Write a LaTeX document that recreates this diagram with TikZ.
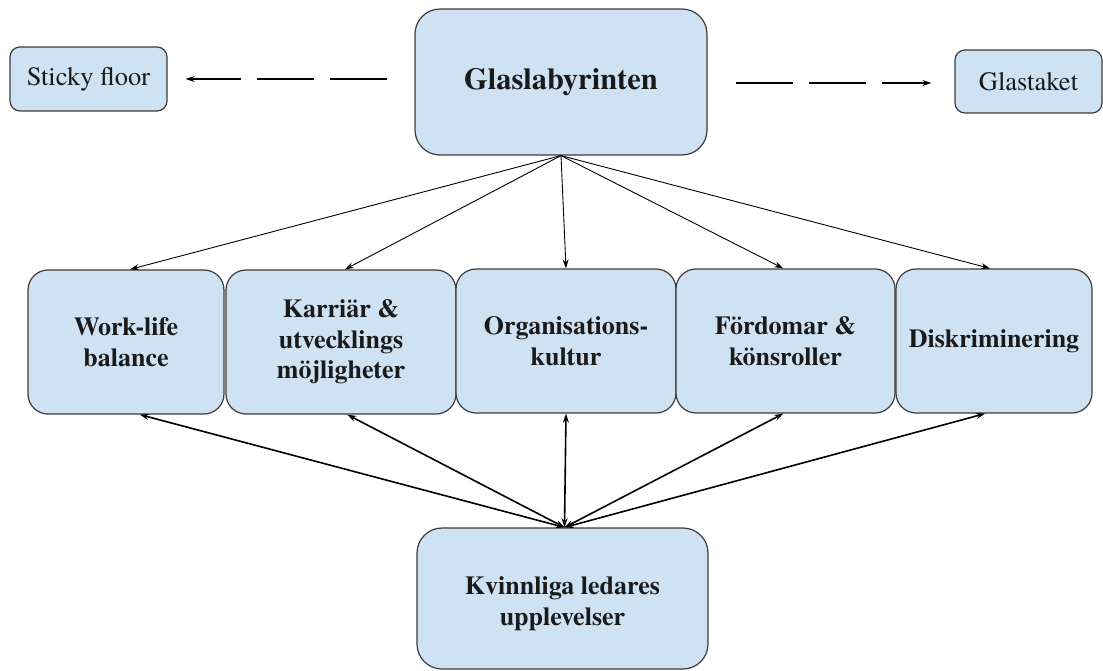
\documentclass[tikz,border=0pt]{standalone}
\usepackage{fontspec}
\setmainfont{texgyretermes}[Extension=.otf,UprightFont=*-regular,BoldFont=*-bold,ItalicFont=*-italic,BoldItalicFont=*-bolditalic]
\usetikzlibrary{arrows.meta,calc}
\definecolor{boxfill}{HTML}{CFE2F3}
\definecolor{boxline}{HTML}{3C3C3C}
\definecolor{txt}{HTML}{1A1A1A}
\begin{document}
\begin{tikzpicture}[x=1pt,y=-1pt,
  box/.style={draw=boxline,fill=boxfill,line width=1.2pt,rounded corners=20pt,
    inner sep=0pt,align=center,text=txt,font=\fontsize{26}{30.5}\selectfont\bfseries},
  sidebox/.style={box,rounded corners=10pt,font=\fontsize{26.5}{30}\selectfont},
  thin arrow/.style={draw=black,line width=0.9pt,-{Stealth[length=9pt,width=6pt]}},
  both arrow/.style={draw=black,line width=1.6pt,{Stealth[length=9pt,width=6pt]}-{Stealth[length=9pt,width=6pt]}},
  dash arrow/.style={draw=black,line width=1.1pt,dash pattern=on 57pt off 16pt,-{Stealth[length=9pt,width=6pt]}}]
\useasboundingbox (0,0) rectangle (1103,671);

\node[sidebox,minimum width=157pt,minimum height=64pt] (sticky) at (88.5,79) {Sticky floor};
\node[box,rounded corners=25pt,minimum width=292pt,minimum height=146pt,font=\fontsize{30.5}{34}\selectfont\bfseries] (glas) at (561,82) {\raisebox{3pt}{Glaslabyrinten}};
\node[sidebox,minimum width=147pt,minimum height=63pt] (tak) at (1028.5,81.5) {Glastaket};

\node[box,minimum width=196pt,minimum height=144pt] (wl) at (126,342) {Work-life\\balance};
\node[box,minimum width=230pt,minimum height=144pt] (kar) at (341,342) {Karriär \&\\utvecklings\\möjligheter};
\node[box,minimum width=220pt,minimum height=144pt] (org) at (566,341) {Organisations-\\kultur};
\node[box,minimum width=219pt,minimum height=144pt] (for) at (785.5,341) {Fördomar \&\\könsroller};
\node[box,minimum width=196pt,minimum height=144pt] (dis) at (994,341) {Diskriminering};

\node[box,rounded corners=25pt,minimum width=291pt,minimum height=141pt,
  label={[font=\fontsize{26}{30.5}\selectfont\bfseries,text=txt,align=center,yshift=-5pt]center:Kvinnliga ledares\\upplevelser}] (kv) at (562.5,598.5) {};

% dashed arrows
\coordinate (ls) at ($(glas.west)+(-27,-3)$);
\coordinate (rs) at ($(glas.east)+(28,1)$);
\draw[dash arrow] (ls) -- ($(sticky.east |- ls)+(18,0)$);
\draw[dash arrow] (rs) -- ($(tak.west |- rs)+(-23,0)$);

% from Glaslabyrinten
\draw[thin arrow] (glas.south) -- ($(wl.north west)!0.52!(wl.north east)$);
\draw[thin arrow] (glas.south) -- ($(kar.north west)!0.517!(kar.north east)$);
\draw[thin arrow] (glas.south) -- ($(org.north west)!0.5!(org.north east)$);
\draw[thin arrow] (glas.south) -- ($(for.north west)!0.49!(for.north east)$);
\draw[thin arrow] (glas.south) -- ($(dis.north west)!0.48!(dis.north east)$);

% to Kvinnliga ledares upplevelser
\coordinate (kvtop) at ($(kv.north)+(2,0)$);
\draw[both arrow] ($(wl.south west)!0.57!(wl.south east)$) -- (kvtop);
\draw[both arrow] ($(kar.south west)!0.527!(kar.south east)$) -- (kvtop);
\draw[both arrow] ($(org.south west)!0.5!(org.south east)$) -- (kvtop);
\draw[both arrow] ($(for.south west)!0.49!(for.south east)$) -- (kvtop);
\draw[both arrow] ($(dis.south west)!0.455!(dis.south east)$) -- (kvtop);
\end{tikzpicture}
\end{document}
